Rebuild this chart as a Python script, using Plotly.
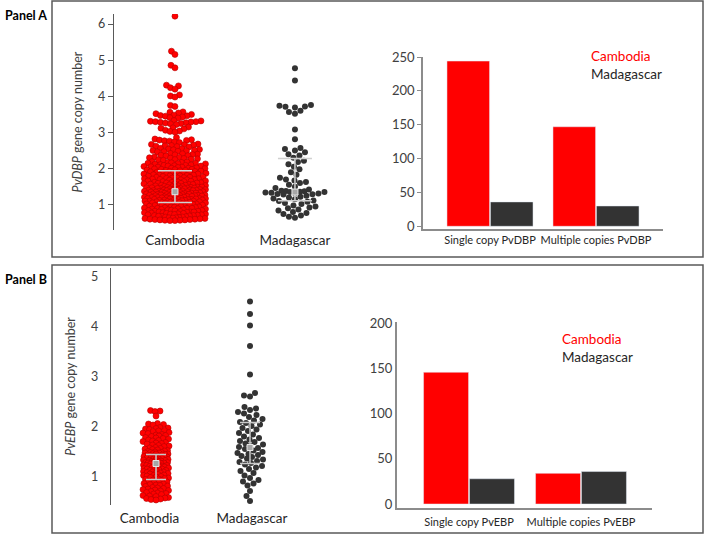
import numpy as np
import plotly.graph_objects as go

# ---------------- data ----------------
swarm_categories = ["Cambodia", "Madagascar"]
bar_categories_a = ["Single copy PvDBP", "Multiple copies PvDBP"]
bar_categories_b = ["Single copy PvEBP", "Multiple copies PvEBP"]

bar_cambodia_a = [244, 147]
bar_madagascar_a = [36, 30]
bar_cambodia_b = [146, 34]
bar_madagascar_b = [28, 36]

cambodia_a = [
    6.22, 5.25, 5.16, 4.86, 4.79, 4.31, 4.29, 4.24, 4.20, 4.04, 4.01, 3.98, 3.75, 3.72,
    3.57, 3.56, 3.54, 3.52, 3.50, 3.48, 3.47, 3.46, 3.45, 3.43, 3.41, 3.40,
    3.33, 3.32, 3.31, 3.30, 3.30, 3.29, 3.28, 3.27, 3.26, 3.25, 3.24, 3.22,
    3.15, 3.13, 3.12, 3.10, 3.06, 3.04, 3.03, 3.01,
    2.86, 2.82, 2.80, 2.79, 2.78, 2.77, 2.76, 2.74, 2.72,
    2.68, 2.67, 2.66, 2.65, 2.64, 2.63, 2.62, 2.61, 2.60,
    2.56, 2.55, 2.54, 2.53, 2.52, 2.51, 2.50, 2.49, 2.48, 2.47, 2.46,
    2.42, 2.41, 2.40, 2.39, 2.38, 2.37, 2.36, 2.35,
    2.32, 2.31, 2.30, 2.29, 2.28, 2.27, 2.26, 2.25, 2.24, 2.23,
    2.19, 2.18, 2.17, 2.17, 2.16, 2.15, 2.15, 2.14, 2.13, 2.12, 2.11, 2.10,
    2.09, 2.09, 2.08, 2.07, 2.07, 2.06, 2.05, 2.04, 2.04, 2.03, 2.02, 2.01, 2.01, 2.00,
    1.99, 1.98, 1.98, 1.97, 1.96, 1.95, 1.95, 1.94, 1.93, 1.92, 1.92, 1.91, 1.90, 1.90,
    1.89, 1.88, 1.88, 1.87, 1.86, 1.85, 1.85, 1.84, 1.83, 1.82, 1.82, 1.81, 1.80, 1.80,
    1.79, 1.79, 1.78, 1.77, 1.76, 1.76, 1.75, 1.74, 1.74, 1.73, 1.72, 1.72, 1.71, 1.70, 1.70,
    1.69, 1.69, 1.68, 1.67, 1.66, 1.66, 1.65, 1.64, 1.64, 1.63, 1.62, 1.62, 1.61, 1.60, 1.60,
    1.59, 1.59, 1.58, 1.58, 1.57, 1.56, 1.56, 1.55, 1.54, 1.54, 1.53, 1.52, 1.52, 1.51, 1.50, 1.50,
    1.49, 1.49, 1.49, 1.48, 1.48, 1.47, 1.47, 1.46, 1.46, 1.45, 1.45, 1.45, 1.44, 1.44, 1.43, 1.43,
    1.42, 1.42, 1.41, 1.41, 1.40, 1.40,
    1.39, 1.39, 1.39, 1.38, 1.38, 1.37, 1.37, 1.37, 1.36, 1.36, 1.35, 1.35, 1.35, 1.34, 1.34, 1.33,
    1.33, 1.32, 1.32, 1.32, 1.31, 1.31, 1.30, 1.30,
    1.29, 1.29, 1.29, 1.28, 1.28, 1.27, 1.27, 1.27, 1.26, 1.26, 1.25, 1.25, 1.25, 1.24, 1.24, 1.23,
    1.23, 1.22, 1.22, 1.22, 1.21, 1.21, 1.20, 1.20,
    1.19, 1.19, 1.18, 1.18, 1.17, 1.17, 1.17, 1.16, 1.16, 1.15, 1.15, 1.14, 1.14, 1.13, 1.13, 1.12,
    1.12, 1.11, 1.11, 1.10, 1.10, 1.10,
    1.09, 1.09, 1.08, 1.08, 1.07, 1.07, 1.06, 1.06, 1.05, 1.05, 1.04, 1.04, 1.03, 1.03, 1.02, 1.02,
    1.01, 1.01, 1.00, 1.00,
    0.99, 0.98, 0.98, 0.97, 0.96, 0.96, 0.95, 0.94, 0.94, 0.93, 0.92, 0.92, 0.91, 0.90, 0.90, 0.90,
    0.89, 0.88, 0.88, 0.87, 0.86, 0.86, 0.85, 0.84, 0.84, 0.83, 0.82, 0.82, 0.81, 0.80, 0.80, 0.80,
    0.79, 0.78, 0.78, 0.77, 0.76, 0.76, 0.75, 0.74, 0.74, 0.73, 0.72, 0.72, 0.71, 0.70, 0.70,
    0.69, 0.68, 0.68, 0.67, 0.66, 0.66, 0.65, 0.64, 0.64, 0.63, 0.62, 0.62, 0.61, 0.60, 0.60,
    0.59, 0.59, 0.58, 0.58, 0.57, 0.57, 0.56, 0.56,
]

madagascar_a = [
    4.78, 4.44, 3.76, 3.74, 3.72, 3.71, 3.69, 3.60, 3.57, 3.52, 3.08, 2.81,
    2.57, 2.54, 2.50, 2.45, 2.40, 2.36, 2.30, 2.22, 2.18, 2.12, 2.05, 1.98, 1.90,
    1.83, 1.75, 1.70, 1.67, 1.63, 1.60, 1.55, 1.50, 1.46, 1.42,
    1.39, 1.38, 1.37, 1.36, 1.35, 1.35, 1.34, 1.33, 1.32, 1.31, 1.30, 1.29, 1.28,
    1.25, 1.22, 1.20, 1.17, 1.15, 1.12, 1.10, 1.08, 1.05, 1.02,
    0.98, 0.95, 0.92, 0.90, 0.87, 0.84, 0.80, 0.77, 0.74, 0.70, 0.67, 0.64,
]

cambodia_b = [
    2.33, 2.32, 2.31, 2.22, 2.07, 2.06, 2.05, 2.04,
    1.99, 1.98, 1.97, 1.96, 1.95, 1.93, 1.92, 1.91,
    1.89, 1.88, 1.87, 1.85, 1.84, 1.83, 1.82, 1.81,
    1.79, 1.78, 1.77, 1.76, 1.74, 1.73, 1.72, 1.71,
    1.69, 1.68, 1.67, 1.66, 1.64, 1.63, 1.62, 1.61,
    1.59, 1.58, 1.57, 1.56, 1.55, 1.54, 1.53, 1.52, 1.51, 1.50,
    1.49, 1.49, 1.48, 1.48, 1.47, 1.46, 1.46, 1.45, 1.44, 1.44, 1.43, 1.42, 1.42, 1.41, 1.40, 1.40,
    1.39, 1.39, 1.38, 1.38, 1.37, 1.36, 1.36, 1.35, 1.35, 1.34, 1.33, 1.33, 1.32, 1.31, 1.31, 1.30, 1.30,
    1.29, 1.29, 1.28, 1.28, 1.27, 1.26, 1.26, 1.25, 1.25, 1.24, 1.23, 1.23, 1.22, 1.21, 1.21, 1.20, 1.20,
    1.19, 1.19, 1.18, 1.17, 1.16, 1.16, 1.15, 1.14, 1.13, 1.13, 1.12, 1.11, 1.10, 1.10,
    1.09, 1.08, 1.07, 1.07, 1.06, 1.05, 1.04, 1.03, 1.03, 1.02, 1.01, 1.00,
    0.99, 0.98, 0.97, 0.96, 0.95, 0.94, 0.93, 0.92, 0.91, 0.90,
    0.89, 0.88, 0.87, 0.86, 0.85, 0.84, 0.83, 0.82, 0.81,
    0.79, 0.78, 0.77, 0.76, 0.75, 0.74, 0.73, 0.72, 0.71,
    0.69, 0.68, 0.67, 0.66, 0.65, 0.63, 0.62, 0.61,
    0.59, 0.58, 0.57, 0.56, 0.55, 0.54,
]

madagascar_b = [
    4.51, 4.26, 4.03, 3.62, 3.05, 2.68, 2.63, 2.61,
    2.40, 2.37, 2.34, 2.30, 2.27, 2.24, 2.20, 2.16, 2.13, 2.10, 2.08, 2.05, 2.02,
    1.98, 1.95, 1.92, 1.88, 1.85, 1.81, 1.78, 1.75, 1.72, 1.70, 1.67, 1.65, 1.62,
    1.60, 1.58, 1.56, 1.53, 1.50, 1.48, 1.46, 1.44, 1.42, 1.40, 1.37, 1.35, 1.32,
    1.30, 1.28, 1.25, 1.22, 1.19, 1.16, 1.12, 1.08, 1.03, 0.98, 0.94, 0.91, 0.87,
    0.83, 0.72, 0.62, 0.52,
]

# median and interquartile range drawn over each swarm
median_a = [1.36, 1.35]
q1_a = [1.06, 1.11]
q3_a = [1.94, 2.28]
median_b = [1.27, 1.59]
q1_b = [0.95, 1.27]
q3_b = [1.45, 2.09]

# ---------------- helpers ----------------
W, H = 705, 535


def px_x(p):
    return p / W


def px_y(p):
    return 1 - p / H


def beeswarm(values, ypx, d, cap, step=0.5):
    """Return horizontal pixel offsets placing each point without (or with least) overlap."""
    v = np.asarray(values, float)
    order = np.argsort(v, kind="stable")
    offs = np.zeros(len(v))
    cand = np.arange(-cap, cap + 1e-9, step)
    pxs, pys = [], []
    for i in order:
        y = v[i] * ypx
        x = 0.0
        if pys:
            py = np.array(pys)
            pxa = np.array(pxs)
            m = np.abs(py - y) < d
            if m.any():
                dx = cand[:, None] - pxa[m][None, :]
                dy = py[m][None, :] - y
                dist = np.sqrt(dx ** 2 + dy ** 2).min(axis=1)
                ok = dist >= d
                if ok.any():
                    idx = np.where(ok)[0]
                    j = idx[np.argmin(np.abs(cand[idx]) + 1e-6 * cand[idx])]
                else:
                    best = dist.max()
                    idx = np.where(dist >= best - 0.6)[0]
                    j = idx[np.argmin(np.abs(cand[idx]))]
                x = cand[j]
        offs[i] = x
        pxs.append(x)
        pys.append(y)
    return offs


RED = "#ff0000"
RED_EDGE = "#b40000"
DARK = "#333333"
AX = "#595959"
TXT = "#404040"
FONT = "Lato"

fig = go.Figure()

# ---------------- Panel A swarm ----------------
XPX_A, YPX_A = 120.0, 36.0
off_ca = beeswarm(cambodia_a, YPX_A, 4.6, 31)
off_ma = beeswarm(madagascar_a, YPX_A, 6.0, 30)
fig.add_trace(go.Scatter(
    x=0 + off_ca / XPX_A, y=cambodia_a, mode="markers", xaxis="x", yaxis="y",
    marker=dict(size=6, color=RED, line=dict(color=RED_EDGE, width=0.6)),
    name="Cambodia", showlegend=False, hoverinfo="y"))
fig.add_trace(go.Scatter(
    x=1 + off_ma / XPX_A, y=madagascar_a, mode="markers", xaxis="x", yaxis="y",
    marker=dict(size=6, color=DARK, line=dict(width=0)),
    name="Madagascar", showlegend=False, hoverinfo="y"))
fig.add_trace(go.Scatter(
    x=[0, 1], y=median_a, mode="markers", xaxis="x", yaxis="y",
    marker=dict(symbol="square", size=6, color="#a6a6a6", line=dict(color="#e6e6e6", width=1)),
    error_y=dict(type="data", symmetric=False,
                 array=[q - m for q, m in zip(q3_a, median_a)],
                 arrayminus=[m - q for q, m in zip(q1_a, median_a)],
                 color="#d0d0d0", thickness=1.5, width=17),
    showlegend=False, hoverinfo="skip"))

# ---------------- Panel A bars ----------------
fig.add_trace(go.Bar(x=bar_categories_a, y=bar_cambodia_a, marker_color=RED,
                     xaxis="x2", yaxis="y2", name="Cambodia", showlegend=False))
fig.add_trace(go.Bar(x=bar_categories_a, y=bar_madagascar_a, marker_color=DARK,
                     xaxis="x2", yaxis="y2", name="Madagascar", showlegend=False))

# ---------------- Panel B swarm ----------------
XPX_B, YPX_B = 94.0, 50.0
off_cb = beeswarm(cambodia_b, YPX_B, 4.6, 13)
off_mb = beeswarm(madagascar_b, YPX_B, 6.0, 13)
fig.add_trace(go.Scatter(
    x=0 + off_cb / XPX_B, y=cambodia_b, mode="markers", xaxis="x3", yaxis="y3",
    marker=dict(size=6, color=RED, line=dict(color=RED_EDGE, width=0.6)),
    name="Cambodia", showlegend=False, hoverinfo="y"))
fig.add_trace(go.Scatter(
    x=1 + off_mb / XPX_B, y=madagascar_b, mode="markers", xaxis="x3", yaxis="y3",
    marker=dict(size=6, color=DARK, line=dict(width=0)),
    name="Madagascar", showlegend=False, hoverinfo="y"))
fig.add_trace(go.Scatter(
    x=[0, 1], y=median_b, mode="markers", xaxis="x3", yaxis="y3",
    marker=dict(symbol="square", size=6, color="#a6a6a6", line=dict(color="#e6e6e6", width=1)),
    error_y=dict(type="data", symmetric=False,
                 array=[q - m for q, m in zip(q3_b, median_b)],
                 arrayminus=[m - q for q, m in zip(q1_b, median_b)],
                 color="#c8c8c8", thickness=1.5, width=10),
    showlegend=False, hoverinfo="skip"))

# ---------------- Panel B bars ----------------
fig.add_trace(go.Bar(x=bar_categories_b, y=bar_cambodia_b, marker_color=RED,
                     xaxis="x4", yaxis="y4", name="Cambodia", showlegend=False))
fig.add_trace(go.Bar(x=bar_categories_b, y=bar_madagascar_b, marker_color=DARK,
                     xaxis="x4", yaxis="y4", name="Madagascar", showlegend=False))

tickfont = dict(family=FONT, size=12.5, color=TXT)
catfont = dict(family=FONT, size=13.5, color="#262626")
barcatfont = dict(family=FONT, size=11, color="#262626")

fig.update_layout(
    width=W, height=H, margin=dict(l=0, r=0, t=0, b=0, autoexpand=False),
    paper_bgcolor="white", plot_bgcolor="white",
    barmode="group", bargap=0.18, bargroupgap=0.02,
    font=dict(family=FONT, color=TXT),
    # Panel A swarm
    xaxis=dict(domain=[px_x(114), px_x(345)], range=[-0.508, 1.417], anchor="y",
               tickmode="array", tickvals=[0, 1], ticktext=swarm_categories,
               showline=False, ticks="", showgrid=False, zeroline=False, automargin=False,
               tickangle=0, tickfont=catfont),
    yaxis=dict(domain=[px_y(230), px_y(14)], range=[0.3, 6.28], anchor="x",
               tickvals=[1, 2, 3, 4, 5, 6], showline=True, linecolor=AX, linewidth=1.3,
               ticks="outside", ticklen=5, tickcolor=AX, showgrid=False, zeroline=False,
               automargin=False, tickfont=tickfont,
               title=dict(text="<i>PvDBP</i> gene copy number", standoff=12,
                          font=dict(family=FONT, size=12.5, color=TXT))),
    # Panel A bars
    xaxis2=dict(domain=[px_x(423), px_x(663)], range=[-0.632, 1.632], anchor="y2",
                type="category", showline=True, linecolor="#8c8c8c", linewidth=1.5,
                ticks="", showgrid=False, automargin=False, tickangle=0,
                tickfont=barcatfont),
    yaxis2=dict(domain=[px_y(229), px_y(57)], range=[-4, 250], anchor="x2",
                tickvals=[0, 50, 100, 150, 200, 250], showline=True, linecolor="#8c8c8c",
                linewidth=1.5, ticks="outside", ticklen=4, tickcolor="#8c8c8c",
                showgrid=False, zeroline=False, automargin=False,
                tickfont=dict(family=FONT, size=13, color=TXT)),
    # Panel B swarm
    xaxis3=dict(domain=[px_x(111), px_x(300)], range=[-0.479, 1.532], anchor="y3",
                tickmode="array", tickvals=[-0.07, 1.02], ticktext=swarm_categories,
                showline=False, ticks="", showgrid=False, zeroline=False, automargin=False,
                tickangle=0, tickfont=catfont, ticklabelstandoff=3),
    yaxis3=dict(domain=[px_y(505), px_y(268)], range=[0.44, 5.18], anchor="x3",
                tickvals=[1, 2, 3, 4, 5], showline=True, linecolor=AX, linewidth=1.3,
                ticks="outside", ticklen=5, tickcolor="white", showgrid=False, zeroline=False,
                automargin=False, tickfont=tickfont, ticklabelstandoff=4,
                title=dict(text="<i>PvEBP</i> gene copy number", standoff=12,
                           font=dict(family=FONT, size=12.5, color=TXT))),
    # Panel B bars
    xaxis4=dict(domain=[px_x(397), px_x(652)], range=[-0.643, 1.634], anchor="y4",
                type="category", showline=True, linecolor="#8c8c8c", linewidth=2,
                ticks="", showgrid=False, automargin=False, tickangle=0,
                tickfont=barcatfont, ticklabelstandoff=3),
    yaxis4=dict(domain=[px_y(508), px_y(322)], range=[-4.4, 201.7], anchor="x4",
                tickvals=[0, 50, 100, 150, 200], showline=True, linecolor="#8c8c8c",
                linewidth=2, ticks="", showgrid=False, zeroline=False, automargin=False,
                tickfont=dict(family=FONT, size=13, color=TXT)),
)

# panel frames
for y0, y1 in [(1, 257), (265, 533)]:
    fig.add_shape(type="rect", xref="paper", yref="paper",
                  x0=px_x(52), x1=px_x(703), y0=px_y(y1), y1=px_y(y0),
                  line=dict(color="#595959", width=1.5), fillcolor="rgba(0,0,0,0)", layer="below")

annos = [
    ("<b>Panel A</b>", 3, 15, "#000000", 12.5),
    ("<b>Panel B</b>", 3, 279, "#000000", 12.5),
    ("Cambodia", 589, 56, RED, 13.5),
    ("Madagascar", 589, 74, "#262626", 13.5),
    ("Cambodia", 560, 339, RED, 13.5),
    ("Madagascar", 560, 357, "#262626", 13.5),
]
for text, x, y, col, size in annos:
    fig.add_annotation(text=text, xref="paper", yref="paper", x=px_x(x), y=px_y(y),
                       xanchor="left", yanchor="middle", showarrow=False,
                       font=dict(family=FONT, size=size, color=col))

fig.write_html("out.html", config={"displayModeBar": False},
               post_script="document.body.style.margin='0px';")
